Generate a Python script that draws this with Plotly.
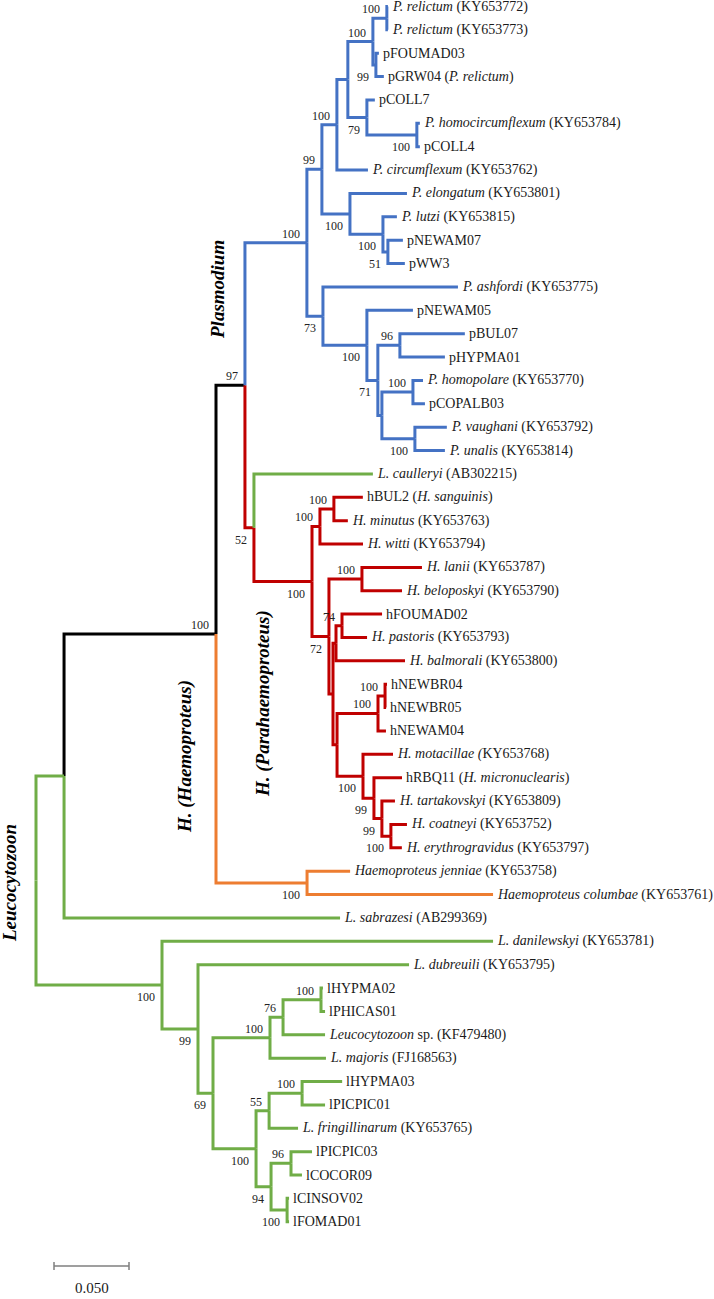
import plotly.graph_objects as go

# ---------------- DATA (tree in pre-order) ----------------
node_names = [
    "root", "A", "B", "C", "Pr", "P1", "P1a", "P1a1", "Rg", "Rp",
    "<i>P. relictum</i> (KY653772)", "<i>P. relictum</i> (KY653773)",
    "Fg", "pFOUMAD03", "pGRW04 (<i>P. relictum</i>)",
    "Cg", "pCOLL7", "Hc", "<i>P. homocircumflexum</i> (KY653784)", "pCOLL4",
    "<i>P. circumflexum</i> (KY653762)",
    "P1b", "<i>P. elongatum</i> (KY653801)", "Lg", "<i>P. lutzi</i> (KY653815)",
    "Ng", "pNEWAM07", "pWW3",
    "P2", "<i>P. ashfordi</i> (KY653775)", "P2b", "pNEWAM05", "P2c",
    "Bg", "pBUL07", "pHYPMA01", "P2d", "Hp", "<i>P. homopolare</i> (KY653770)", "pCOPALB03",
    "Vg", "<i>P. vaughani</i> (KY653792)", "<i>P. unalis</i> (KY653814)",
    "D", "<i>L. caulleryi</i> (AB302215)", "E", "F", "F2",
    "hBUL2 (<i>H. sanguinis</i>)", "<i>H. minutus</i> (KY653763)", "<i>H. witti</i> (KY653794)",
    "G", "H1", "<i>H. lanii</i> (KY653787)", "<i>H. beloposkyi</i> (KY653790)",
    "H2", "I", "I1", "hFOUMAD02", "<i>H. pastoris</i> (KY653793)", "<i>H. balmorali</i> (KY653800)",
    "J", "Jn", "Jn1", "hNEWBR04", "hNEWBR05", "hNEWAM04",
    "K", "<i>H. motacillae (</i>KY653768)", "L", "hRBQ11 (<i>H. micronuclearis</i>)",
    "M", "<i>H. tartakovskyi</i> (KY653809)", "N", "<i>H. coatneyi</i> (KY653752)",
    "<i>H. erythrogravidus</i> (KY653797)",
    "O", "<i>Haemoproteus jenniae</i> (KY653758)", "<i>Haemoproteus columbae</i> (KY653761)",
    "<i>L. sabrazesi</i> (AB299369)",
    "Leuco", "<i>L. danilewskyi</i> (KY653781)", "Q", "<i>L. dubreuili</i> (KY653795)",
    "R", "S", "S1", "S1a", "lHYPMA02", "lPHICAS01", "<i>Leucocytozoon</i> sp. (KF479480)",
    "<i>L. majoris</i> (FJ168563)",
    "T", "T1", "T1a", "lHYPMA03", "lPICPIC01", "<i>L. fringillinarum</i> (KY653765)",
    "T2", "T2a", "lPICPIC03", "lCOCOR09", "T2b", "lCINSOV02", "lFOMAD01",
]

node_parents = [
    None, "root", "A", "B", "C", "Pr", "P1", "P1a", "P1a1", "Rg",
    "Rp", "Rp",
    "Rg", "Fg", "Fg",
    "P1a1", "Cg", "Cg", "Hc", "Hc",
    "P1a",
    "P1", "P1b", "P1b", "Lg",
    "Lg", "Ng", "Ng",
    "Pr", "P2", "P2", "P2b", "P2b",
    "P2c", "Bg", "Bg", "P2c", "P2d", "Hp", "Hp",
    "P2d", "Vg", "Vg",
    "C", "D", "D", "E", "F",
    "F2", "F2", "F",
    "E", "G", "H1", "H1",
    "G", "H2", "I", "I1", "I1", "I",
    "H2", "J", "Jn", "Jn1", "Jn1", "Jn",
    "J", "K", "K", "L",
    "L", "M", "M", "N",
    "N",
    "B", "O", "O",
    "A",
    "root", "Leuco", "Leuco", "Q",
    "Q", "R", "S", "S1", "S1a", "S1a", "S1",
    "S",
    "R", "T", "T1", "T1a", "T1a", "T1",
    "T", "T2", "T2a", "T2a", "T2", "T2b", "T2b",
]

branch_lengths = [
    0.0, 0.0187, 0.1013, 0.0193, 0.0413, 0.0100, 0.0100, 0.0073, 0.0167, 0.0093,
    0.0007, 0.0007,
    0.0020, 0.0020, 0.0053,
    0.0127, 0.0053, 0.0333, 0.0020, 0.0020,
    0.0207,
    0.0187, 0.0380, 0.0220, 0.0093,
    0.0033, 0.0100, 0.0113,
    0.0107, 0.0900, 0.0293, 0.0307, 0.0073,
    0.0147, 0.0433, 0.0300, 0.0027, 0.0207, 0.0067, 0.0080,
    0.0220, 0.0213, 0.0200,
    0.0060, 0.0793, 0.0387, 0.0053, 0.0093,
    0.0193, 0.0093, 0.0287,
    0.0113, 0.0220, 0.0400, 0.0267,
    0.0027, 0.0020, 0.0040, 0.0267, 0.0167, 0.0460,
    0.0027, 0.0273, 0.0047, 0.0013, 0.0007, 0.0053,
    0.0173, 0.0200, 0.0073, 0.0187,
    0.0053, 0.0087, 0.0060, 0.0107,
    0.0073,
    0.0607, 0.0287, 0.1240,
    0.1840,
    0.0840, 0.2207, 0.0240, 0.1407,
    0.0100, 0.0380, 0.0087, 0.0253, 0.0013, 0.0027, 0.0280,
    0.0373,
    0.0287, 0.0087, 0.0220, 0.0267, 0.0153, 0.0193,
    0.0100, 0.0133, 0.0140, 0.0073, 0.0107, 0.0013, 0.0013,
]

bootstrap = [
    None, None, 100, 97, 100, 99, 100, None, 100, 100,
    None, None,
    99, None, None,
    79, None, 100, None, None,
    None,
    100, None, 100, None,
    51, None, None,
    73, None, 100, None, 71,
    96, None, None, None, 100, None, None,
    100, None, None,
    52, None, 100, 100, 100,
    None, None, None,
    72, 100, None, None,
    None, None, 74, None, None, None,
    None, 100, 100, None, None, None,
    100, None, 99, None,
    99, None, 100, None,
    None,
    100, None, None,
    None,
    100, None, 99, None,
    69, 100, 76, 100, None, None, None,
    None,
    100, 55, 100, None, None, None,
    94, 96, None, None, 100, None, None,
]

node_clade = [
    "Leucocytozoon", "Leucocytozoon", "backbone", "backbone", "Plasmodium", "Plasmodium", "Plasmodium",
    "Plasmodium", "Plasmodium", "Plasmodium",
    "Plasmodium", "Plasmodium",
    "Plasmodium", "Plasmodium", "Plasmodium",
    "Plasmodium", "Plasmodium", "Plasmodium", "Plasmodium", "Plasmodium",
    "Plasmodium",
    "Plasmodium", "Plasmodium", "Plasmodium", "Plasmodium",
    "Plasmodium", "Plasmodium", "Plasmodium",
    "Plasmodium", "Plasmodium", "Plasmodium", "Plasmodium", "Plasmodium",
    "Plasmodium", "Plasmodium", "Plasmodium", "Plasmodium", "Plasmodium", "Plasmodium", "Plasmodium",
    "Plasmodium", "Plasmodium", "Plasmodium",
    "Parahaemoproteus", "Leucocytozoon", "Parahaemoproteus", "Parahaemoproteus", "Parahaemoproteus",
    "Parahaemoproteus", "Parahaemoproteus", "Parahaemoproteus",
    "Parahaemoproteus", "Parahaemoproteus", "Parahaemoproteus", "Parahaemoproteus",
    "Parahaemoproteus", "Parahaemoproteus", "Parahaemoproteus", "Parahaemoproteus", "Parahaemoproteus",
    "Parahaemoproteus",
    "Parahaemoproteus", "Parahaemoproteus", "Parahaemoproteus", "Parahaemoproteus", "Parahaemoproteus",
    "Parahaemoproteus",
    "Parahaemoproteus", "Parahaemoproteus", "Parahaemoproteus", "Parahaemoproteus",
    "Parahaemoproteus", "Parahaemoproteus", "Parahaemoproteus", "Parahaemoproteus",
    "Parahaemoproteus",
    "Haemoproteus", "Haemoproteus", "Haemoproteus",
    "Leucocytozoon",
    "Leucocytozoon", "Leucocytozoon", "Leucocytozoon", "Leucocytozoon",
    "Leucocytozoon", "Leucocytozoon", "Leucocytozoon", "Leucocytozoon", "Leucocytozoon", "Leucocytozoon",
    "Leucocytozoon",
    "Leucocytozoon",
    "Leucocytozoon", "Leucocytozoon", "Leucocytozoon", "Leucocytozoon", "Leucocytozoon", "Leucocytozoon",
    "Leucocytozoon", "Leucocytozoon", "Leucocytozoon", "Leucocytozoon", "Leucocytozoon", "Leucocytozoon",
    "Leucocytozoon",
]

clade_names = ["Plasmodium", "H. (Parahaemoproteus)", "H. (Haemoproteus)", "Leucocytozoon"]
scale_bar_value = 0.05
scale_bar_label = "0.050"

# ---------------- STYLE ----------------
clade_colors = {
    "backbone": "#000000",
    "Plasmodium": "#4472C4",
    "Parahaemoproteus": "#C00000",
    "Haemoproteus": "#ED7D31",
    "Leucocytozoon": "#70AD47",
}
W, H = 714, 1299
PX_PER_UNIT = 1500.0
ROOT_PX = 36.0
LEAF_TOP_PX = 6.5
LEAF_STEP_PX = 23.37
FONT = "Liberation Serif, Times New Roman, serif"

# ---------------- LAYOUT COMPUTATION ----------------
n = len(node_names)
assert len(node_parents) == n and len(branch_lengths) == n and len(bootstrap) == n and len(node_clade) == n
idx = {nm: i for i, nm in enumerate(node_names)}
children = {i: [] for i in range(n)}
for i, p in enumerate(node_parents):
    if p is not None:
        children[idx[p]].append(i)

xs = [0.0] * n
for i in range(n):
    p = node_parents[i]
    if p is not None:
        xs[i] = xs[idx[p]] + branch_lengths[i]

ys = [None] * n
leaf_counter = 0
for i in range(n):
    if not children[i]:
        ys[i] = float(leaf_counter)
        leaf_counter += 1
for i in reversed(range(n)):
    if children[i]:
        ys[i] = (ys[children[i][0]] + ys[children[i][-1]]) / 2.0

px_x = 1.0 / PX_PER_UNIT
px_y = 1.0 / LEAF_STEP_PX

fig = go.Figure()

segs = {}
for i in range(n):
    p = node_parents[i]
    if p is None:
        continue
    pi = idx[p]
    c = node_clade[i]
    sx, sy = segs.setdefault(c, ([], []))
    sx += [xs[pi], xs[pi], xs[i], None]
    sy += [ys[pi], ys[i], ys[i], None]

for c in ["backbone", "Haemoproteus", "Parahaemoproteus", "Plasmodium", "Leucocytozoon"]:
    if c in segs:
        fig.add_trace(go.Scatter(x=segs[c][0], y=segs[c][1], mode="lines",
                                 line=dict(color=clade_colors[c], width=3),
                                 hoverinfo="skip", showlegend=False))

annotations = []
for i in range(n):
    if not children[i]:
        annotations.append(dict(x=xs[i] + 2 * px_x, y=ys[i], text=node_names[i],
                                xanchor="left", yanchor="middle", showarrow=False,
                                font=dict(family=FONT, size=14, color="#1a1a1a")))
    elif bootstrap[i] is not None:
        p = node_parents[i]
        up = p is not None and ys[i] < ys[idx[p]]
        dy = -9 * px_y if up else 12 * px_y
        annotations.append(dict(x=xs[i] - 5 * px_x, y=ys[i] + dy, text=str(bootstrap[i]),
                                xanchor="right", yanchor="middle", showarrow=False,
                                font=dict(family=FONT, size=12, color="#222222")))

# clade labels (rotated)
clade_pos = [(217, 290), (263, 704), (185, 757), (9, 883)]
for name, (cx, cy) in zip(clade_names, clade_pos):
    annotations.append(dict(x=(cx - ROOT_PX) * px_x, y=(cy - LEAF_TOP_PX) * px_y,
                            text="<b><i>%s</i></b>" % name, textangle=-90,
                            xanchor="center", yanchor="middle", showarrow=False,
                            font=dict(family=FONT, size=19, color="#000000")))

# scale bar
sb_x0 = (54 - ROOT_PX) * px_x
sb_y = (1266 - LEAF_TOP_PX) * px_y
sb_x1 = sb_x0 + scale_bar_value
tick = 4 * px_y
fig.add_trace(go.Scatter(
    x=[sb_x0, sb_x1, None, sb_x0, sb_x0, None, sb_x1, sb_x1],
    y=[sb_y, sb_y, None, sb_y - tick, sb_y + tick, None, sb_y - tick, sb_y + tick],
    mode="lines", line=dict(color="#7f7f7f", width=1.5), hoverinfo="skip", showlegend=False))
annotations.append(dict(x=(sb_x0 + sb_x1) / 2, y=(1288 - LEAF_TOP_PX) * px_y, text=scale_bar_label,
                        xanchor="center", yanchor="middle", showarrow=False,
                        font=dict(family=FONT, size=15, color="#1a1a1a")))

fig.update_layout(
    width=W, height=H,
    margin=dict(l=0, r=0, t=0, b=0),
    paper_bgcolor="white", plot_bgcolor="white",
    xaxis=dict(range=[-ROOT_PX * px_x, (W - ROOT_PX) * px_x], visible=False, fixedrange=True),
    yaxis=dict(range=[(H - LEAF_TOP_PX) * px_y, -LEAF_TOP_PX * px_y], visible=False, fixedrange=True),
    annotations=annotations,
)

fig.write_html("out.html", config={"displayModeBar": False},
               post_script="document.body.style.margin='0';document.body.style.overflow='hidden';")
